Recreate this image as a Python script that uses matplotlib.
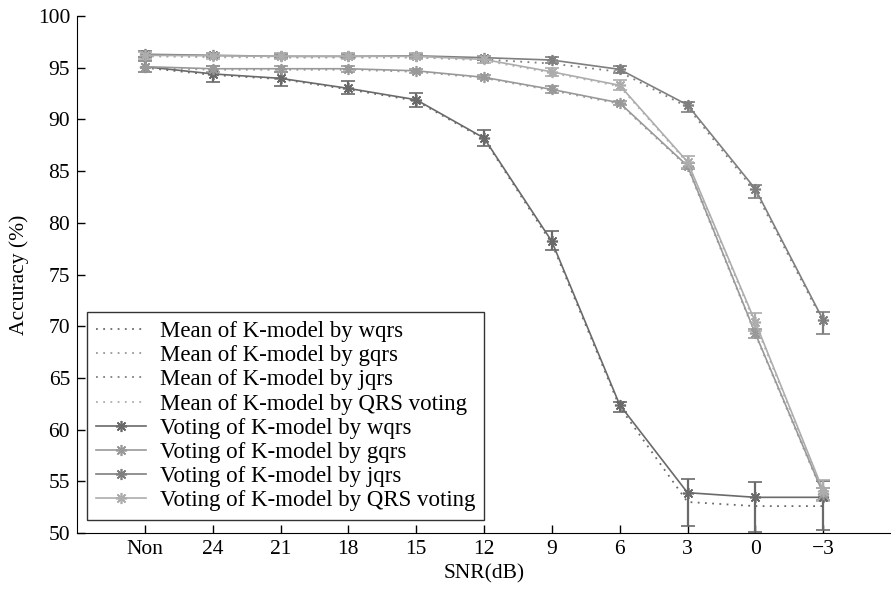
import matplotlib
matplotlib.use("Agg")
import matplotlib.pyplot as plt
from matplotlib.container import ErrorbarContainer
import numpy as np

plt.rcParams['font.family'] = ['Liberation Serif', 'DejaVu Serif']
plt.rcParams['font.size'] = 15.5

snr_labels = ['Non', '24', '21', '18', '15', '12', '9', '6', '3', '0', '\u22123']

# voting of K-model (solid, * markers, error bars)
vote_wqrs = [95.1, 94.4, 93.97, 93.0, 91.9, 88.2, 78.2, 62.4, 53.9, 53.45, 53.45]
vote_gqrs = [95.1, 94.9, 94.9, 94.9, 94.7, 94.07, 92.9, 91.6, 85.5, 69.3, 53.8]
vote_jqrs = [96.3, 96.2, 96.1, 96.1, 96.15, 95.97, 95.74, 94.84, 91.4, 83.27, 70.6]
vote_qrsv = [96.2, 96.15, 96.1, 96.1, 96.1, 95.8, 94.6, 93.3, 85.9, 70.4, 54.1]

err_wqrs_lo = [0.5, 0.75, 0.75, 0.55, 0.7, 0.75, 0.8, 0.65, 3.2, 3.4, 3.2]
err_wqrs_hi = [0.5, 0.75, 0.65, 0.7, 0.7, 0.8, 1.0, 0.25, 1.3, 1.5, 1.6]
err_gqrs = [0.5, 0.3, 0.3, 0.3, 0.2, 0.2, 0.3, 0.2, 0.3, 0.4, 0.6]
err_jqrs_lo = [0.3, 0.2, 0.2, 0.2, 0.2, 0.2, 0.3, 0.4, 0.7, 0.9, 1.35]
err_jqrs_hi = [0.3, 0.2, 0.2, 0.2, 0.2, 0.2, 0.3, 0.3, 0.3, 0.4, 0.75]
err_qrsv = [0.35, 0.3, 0.3, 0.3, 0.3, 0.3, 0.4, 0.5, 0.6, 0.9, 1.0]

# mean of K-model (dotted)
mean_wqrs = [95.0, 94.3, 93.9, 92.9, 91.8, 88.1, 78.0, 62.2, 53.0, 52.6, 52.6]
mean_gqrs = [95.0, 94.8, 94.8, 94.8, 94.6, 94.0, 92.8, 91.5, 85.4, 69.2, 53.7]
mean_jqrs = [96.2, 96.1, 96.0, 96.0, 96.0, 95.8, 95.4, 94.6, 91.2, 83.0, 70.4]
mean_qrsv = [96.1, 96.0, 96.0, 96.0, 96.0, 95.7, 94.5, 93.2, 85.8, 70.2, 54.0]

c_wqrs = '#6a6a6a'
c_gqrs = '#999999'
c_jqrs = '#7f7f7f'
c_qrsv = '#adadad'

x = np.arange(1, len(snr_labels) + 1)

fig = plt.figure(figsize=(8.91, 5.94), dpi=100)
ax = fig.add_axes([77 / 891, 1 - 533 / 594, 814 / 891, 517 / 594])

dots = (0, (1, 3))
ax.plot(x, mean_wqrs, linestyle=dots, color=c_wqrs, lw=1.3, label='Mean of K-model by wqrs')
ax.plot(x, mean_gqrs, linestyle=dots, color=c_gqrs, lw=1.3, label='Mean of K-model by gqrs')
ax.plot(x, mean_jqrs, linestyle=dots, color=c_jqrs, lw=1.3, label='Mean of K-model by jqrs')
ax.plot(x, mean_qrsv, linestyle=dots, color=c_qrsv, lw=1.3, label='Mean of K-model by QRS voting')

# matlab-like asterisk marker
star = (8, 2, 0)
eb = dict(marker=star, ms=8, mew=1.2, lw=1.2, elinewidth=1.6, capsize=5, capthick=1.6)
ax.errorbar(x, vote_wqrs, yerr=[err_wqrs_lo, err_wqrs_hi], color=c_wqrs,
            label='Voting of K-model by wqrs', **eb)
ax.errorbar(x, vote_gqrs, yerr=err_gqrs, color=c_gqrs,
            label='Voting of K-model by gqrs', **eb)
ax.errorbar(x, vote_jqrs, yerr=[err_jqrs_lo, err_jqrs_hi], color=c_jqrs,
            label='Voting of K-model by jqrs', **eb)
ax.errorbar(x, vote_qrsv, yerr=err_qrsv, color=c_qrsv,
            label='Voting of K-model by QRS voting', **eb)

ax.set_xlim(0, 12)
ax.set_ylim(50, 100)
ax.set_xticks(x)
ax.set_xticklabels(snr_labels)
ax.set_yticks(np.arange(50, 101, 5))
ax.spines['top'].set_visible(False)
ax.spines['right'].set_visible(False)
ax.tick_params(direction='in', length=6, width=1, pad=5)
ax.set_xlabel('SNR(dB)', labelpad=4)
ax.set_ylabel('Accuracy (%)', labelpad=6)

# legend shows only the line + marker, not the error bars
handles, labels = ax.get_legend_handles_labels()
handles = [h.lines[0] if isinstance(h, ErrorbarContainer) else h for h in handles]
ax.legend(handles, labels, loc='lower left', bbox_to_anchor=(0.012, 0.025), borderaxespad=0,
          fontsize=16.5, labelspacing=0.135, handlelength=2.2, handletextpad=0.6,
          frameon=True, fancybox=False, edgecolor='#333333', framealpha=1,
          borderpad=0.39)

fig.savefig('out.png', dpi=100)
